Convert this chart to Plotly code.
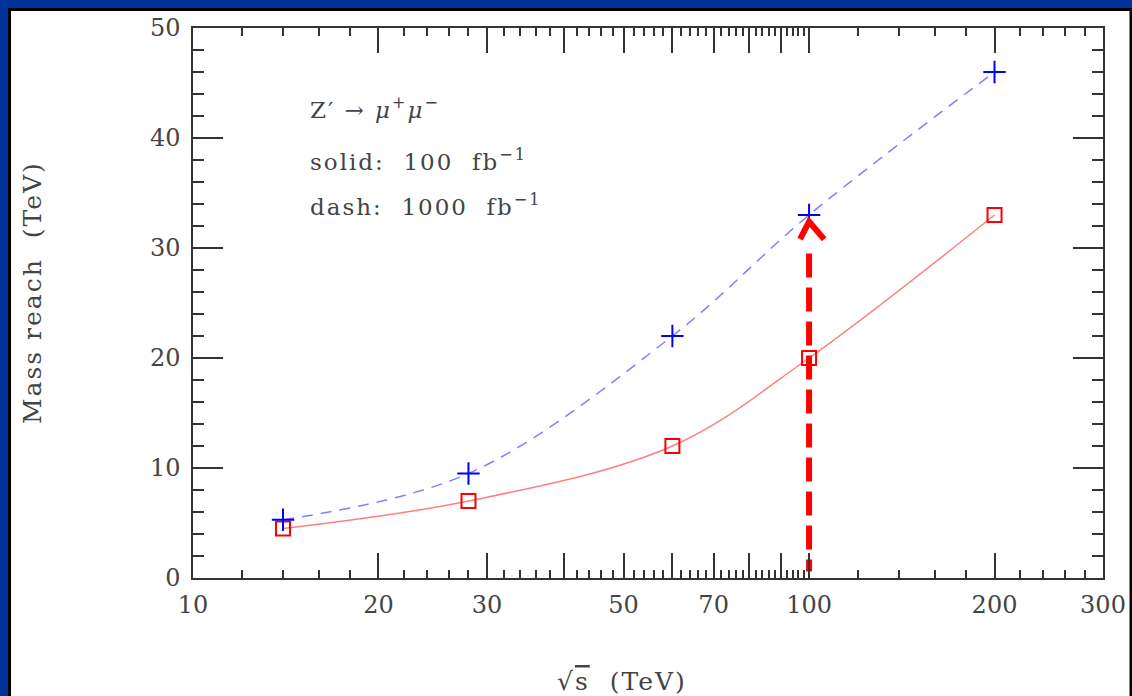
import numpy as np
import plotly.graph_objects as go

# ---- data ----
energies = [14, 28, 60, 100, 200]                 # sqrt(s) in TeV
reach_100fb = [4.5, 7.0, 12.0, 20.0, 33.0]        # solid, 100 fb^-1
reach_1000fb = [5.3, 9.5, 22.0, 33.0, 46.0]       # dash, 1000 fb^-1

x_tick_vals = [10, 20, 30, 40, 50, 60, 70, 80, 90, 100, 200, 300]
x_tick_text = ["10", "20", "30", "", "50", "", "70", "", "", "100", "200", "300"]
y_tick_vals = [0, 10, 20, 30, 40, 50]
y_tick_text = ["0", "10", "20", "30", "40", "50"]

arrow_x = 100
arrow_base = 0.0
arrow_top = 32.4

FONT = "DejaVu Serif"
TXT = "#444444"
AX = "#333333"


def spaced(s, px):
    return f"<span style='letter-spacing:{px}px'>{s}</span>"


# minor tick positions
x_minor = [v for v in range(12, 100, 2) if v % 10 != 0] + [v for v in range(120, 300, 20) if v % 100 != 0]

fig = go.Figure()

# red solid spline (100 fb^-1)
fig.add_trace(go.Scatter(
    x=energies, y=reach_100fb, mode="lines", line=dict(color="#ff8080", width=1.5, shape="spline"),
    hoverinfo="skip", showlegend=False))
# blue dashed spline (1000 fb^-1)
fig.add_trace(go.Scatter(
    x=energies, y=reach_1000fb, mode="lines",
    line=dict(color="#8080ff", width=1.5, shape="spline", dash="11px,8px"),
    hoverinfo="skip", showlegend=False))
# markers
fig.add_trace(go.Scatter(
    x=energies, y=reach_100fb, mode="markers",
    marker=dict(symbol="square-open", size=14, color="#ff0000", line=dict(width=2, color="#ff0000")),
    showlegend=False))
fig.add_trace(go.Scatter(
    x=energies, y=reach_1000fb, mode="markers",
    marker=dict(symbol="cross-thin", size=16, color="#0000ff", line=dict(width=2, color="#0000ff")),
    showlegend=False))

# red dashed arrow (drawn top -> bottom so a dash starts just below the head)
fig.add_trace(go.Scatter(
    x=[arrow_x, arrow_x], y=[arrow_top - 2.9, arrow_base + 0.6], mode="lines",
    line=dict(color="#ff0000", width=6, dash="24px,10px"), hoverinfo="skip", showlegend=False))
fig.add_trace(go.Scatter(
    x=[arrow_x * 0.967, arrow_x, arrow_x * 1.058], y=[arrow_top - 1.6, arrow_top, arrow_top - 1.6],
    mode="lines", line=dict(color="#ff0000", width=6), hoverinfo="skip", showlegend=False))

# white panel with black edge over blue background
fig.add_shape(type="rect", xref="paper", yref="paper",
              x0=(9.5 - 193) / 910, x1=(1131 - 193) / 910,
              y0=(578 - 740) / 550, y1=(578 - 9.5) / 550,
              fillcolor="white", line=dict(color="black", width=3), layer="below")

# annotations
labels = [
    ("Z′ → <i>μ</i><sup>+</sup><i>μ</i><sup>−</sup>", 108),
    ("solid:  100  fb<sup>−1</sup>", 160),
    ("dash:  1000  fb<sup>−1</sup>", 205),
]
for txt, ypix in labels:
    fig.add_annotation(text=spaced(txt, 2), xref="paper", yref="paper",
                       x=(308 - 193) / 910, y=(578 - ypix) / 550,
                       xanchor="left", yanchor="middle", showarrow=False,
                       font=dict(family=FONT, size=23, color=TXT))

fig.add_annotation(text=spaced("√<span style='text-decoration:overline'>s</span>  (TeV)", 2),
                   xref="paper", yref="paper", x=(622 - 193) / 910, y=(578 - 682) / 550,
                   xanchor="center", yanchor="middle", showarrow=False,
                   font=dict(family=FONT, size=25, color=TXT))
fig.add_annotation(text=spaced("Mass reach  (TeV)", 2), textangle=-90,
                   xref="paper", yref="paper", x=(32 - 193) / 910, y=(578 - 293) / 550,
                   xanchor="center", yanchor="middle", showarrow=False,
                   font=dict(family=FONT, size=25, color=TXT))

fig.update_xaxes(
    type="log", range=[1, np.log10(300)], automargin=False,
    tickmode="array", tickvals=x_tick_vals, ticktext=x_tick_text,
    ticks="inside", ticklen=25, tickwidth=1.5, tickcolor=AX,
    showline=True, linecolor=AX, linewidth=1.5, mirror="ticks",
    showgrid=False, zeroline=False,
    tickfont=dict(family=FONT, size=24, color=TXT), ticklabelstandoff=4,
    minor=dict(tickmode="array", tickvals=x_minor, ticks="inside", ticklen=8,
               tickwidth=1.5, tickcolor=AX, showgrid=False),
)
fig.update_yaxes(
    range=[0, 50], automargin=False, tickmode="array", tickvals=y_tick_vals, ticktext=y_tick_text,
    ticks="inside", ticklen=30, tickwidth=1.5, tickcolor=AX,
    showline=True, linecolor=AX, linewidth=1.5, mirror="ticks",
    showgrid=False, zeroline=False,
    tickfont=dict(family=FONT, size=24, color=TXT), ticklabelstandoff=6,
    minor=dict(dtick=2, ticks="inside", ticklen=11, tickwidth=1.5, tickcolor=AX, showgrid=False),
)

fig.update_layout(
    width=1132, height=696,
    margin=dict(l=193, r=29, t=28, b=118),
    paper_bgcolor="#003399", plot_bgcolor="white",
    showlegend=False,
)

fig.write_html("out.html")
